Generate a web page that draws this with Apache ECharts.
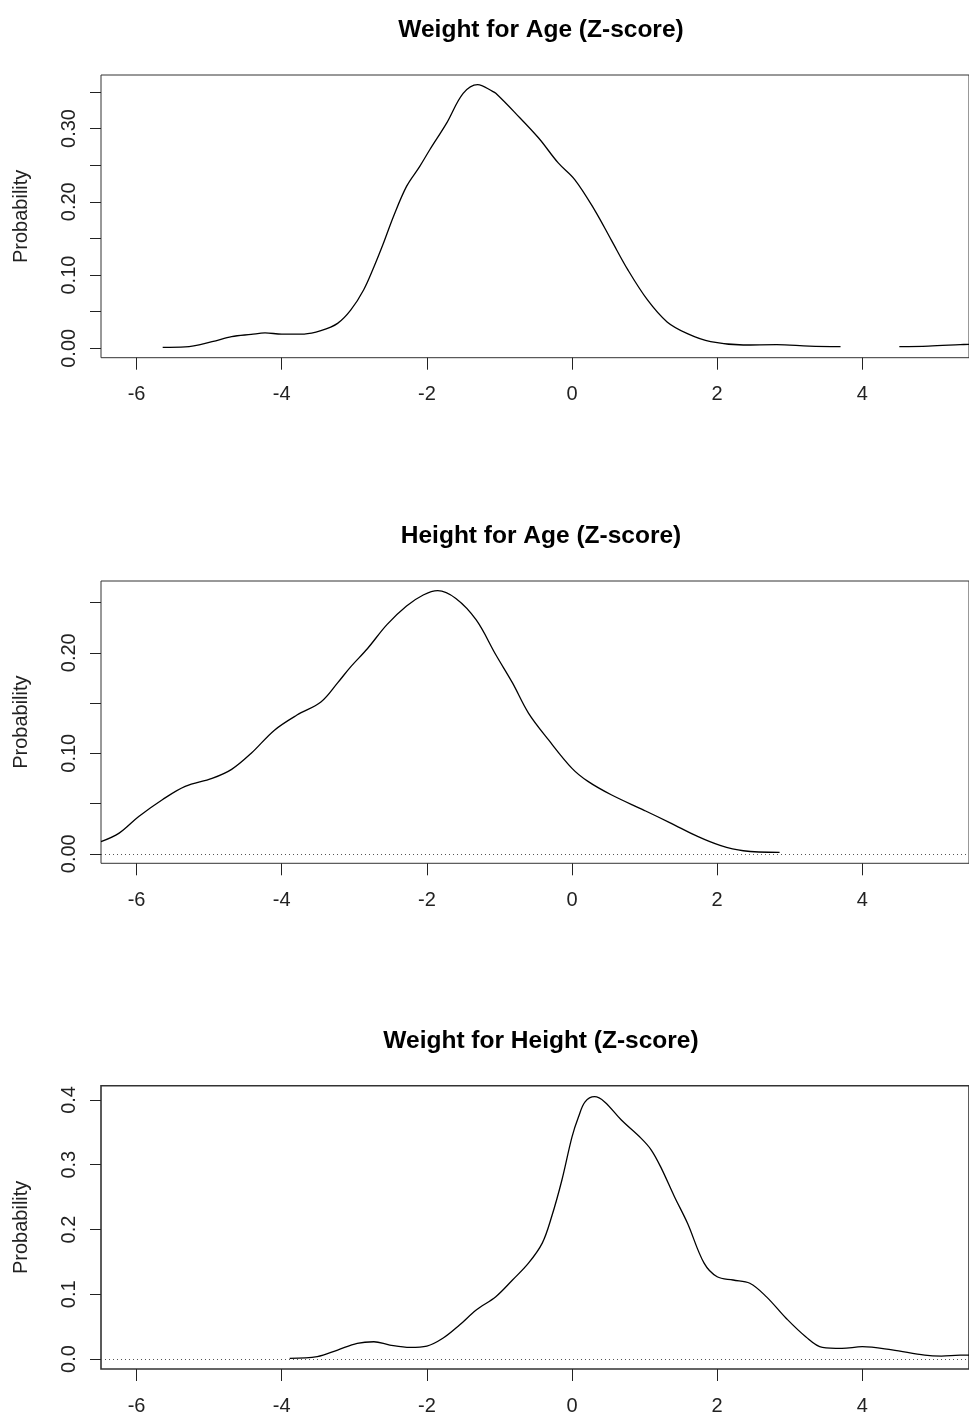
<!DOCTYPE html>
<html>
<head>
<meta charset="utf-8">
<script src="https://cdn.jsdelivr.net/npm/echarts@6/dist/echarts.min.js"></script>
<style>
html,body{margin:0;padding:0;background:#fff;}
#c{width:969px;height:1416px;}
</style>
</head>
<body>
<div id="c"></div>
<script>
// ---- data ----
const titles = ["Weight for Age (Z-score)", "Height for Age (Z-score)", "Weight for Height (Z-score)"];
const xTicks = [-6, -4, -2, 0, 2, 4];

const waX = [-5.64,-5.33,-4.96,-4.69,-4.42,-4.23,-4.0,-3.69,-3.46,-3.23,-3.05,-2.87,-2.73,-2.60,-2.46,-2.28,-2.10,-1.96,-1.73,-1.50,-1.30,-1.10,-1.05,-0.78,-0.46,-0.19,0.04,0.31,0.54,0.77,1.04,1.31,1.59,1.91,2.36,2.82,3.27,3.70,4.10,4.51,4.91,5.35,5.47];
const waY = [0.0014,0.002,0.009,0.016,0.019,0.021,0.0195,0.0195,0.024,0.034,0.052,0.080,0.111,0.143,0.180,0.221,0.248,0.271,0.307,0.348,0.360,0.351,0.348,0.321,0.287,0.253,0.230,0.189,0.148,0.107,0.066,0.036,0.020,0.009,0.0045,0.005,0.003,0.0023,null,0.0023,0.003,0.005,0.0055];

const haX = [-6.49,-6.24,-5.97,-5.64,-5.33,-4.96,-4.69,-4.42,-4.10,-3.79,-3.46,-3.23,-3.05,-2.82,-2.55,-2.28,-2.05,-1.85,-1.60,-1.32,-1.05,-0.82,-0.60,-0.32,0.0,0.22,0.54,1.0,1.36,1.73,2.04,2.36,2.86];
const haY = [0.012,0.0205,0.037,0.054,0.067,0.075,0.084,0.100,0.123,0.138,0.151,0.170,0.186,0.204,0.228,0.2465,0.2575,0.2618,0.254,0.2326,0.198,0.170,0.140,0.113,0.085,0.072,0.0587,0.043,0.0305,0.0172,0.0083,0.003,0.0013];

const whX = [-3.89,-3.51,-3.23,-2.96,-2.73,-2.51,-2.23,-2.0,-1.78,-1.55,-1.32,-1.05,-0.82,-0.60,-0.41,-0.28,-0.14,0.0,0.09,0.18,0.31,0.45,0.68,0.95,1.09,1.22,1.41,1.59,1.82,2.0,2.22,2.45,2.68,2.95,3.22,3.45,3.72,4.0,4.41,4.86,5.09,5.35,5.47];
const whY = [0.001,0.0036,0.0139,0.0242,0.0267,0.0216,0.018,0.020,0.032,0.0525,0.0757,0.0962,0.122,0.148,0.179,0.220,0.276,0.343,0.374,0.397,0.405,0.397,0.369,0.341,0.323,0.297,0.251,0.210,0.148,0.127,0.122,0.117,0.096,0.063,0.0345,0.018,0.0165,0.019,0.014,0.006,0.0046,0.006,0.006];

const yTicks1 = [0,0.05,0.10,0.15,0.20,0.25,0.30,0.35];
const yLabels1 = [0,0.10,0.20,0.30];
const yTicks2 = [0,0.05,0.10,0.15,0.20,0.25];
const yLabels2 = [0,0.10,0.20];
const yTicks3 = [0,0.1,0.2,0.3,0.4];
const yLabels3 = [0,0.1,0.2,0.3,0.4];

// ---- layout ----
const FONT = "Liberation Sans, Arial, sans-serif";
const gridTops = [75, 581, 1085.7];
const gridHeights = [282.7, 282.3, 283.3];
const yRanges = [[-0.0128, 0.373], [-0.0095, 0.2714], [-0.0154, 0.422]];
const yTickSets = [yTicks1, yTicks2, yTicks3];
const yLabelSets = [yLabels1, yLabels2, yLabels3];
const yDecimals = [2, 2, 1];
const seriesXY = [[waX, waY], [haX, haY], [whX, whY]];
const borderW = [1, 1, 1.6];

const zip = (xs, ys) => xs.map((x, i) => [x, ys[i]]);

const option = {
  backgroundColor: '#ffffff',
  animation: false,
  title: titles.map((t, i) => ({
    text: t,
    left: 536,
    textAlign: 'center',
    top: gridTops[i] - 62,
    textStyle: {fontFamily: FONT, fontSize: 24.5, fontWeight: 'bold', color: '#000'}
  })),
  grid: gridTops.map((top, i) => ({
    left: 101, right: -9, top: top, height: gridHeights[i],
    show: true, borderColor: '#333', borderWidth: borderW[i], backgroundColor: 'transparent',
    containLabel: false
  })),
  xAxis: gridTops.map((_, i) => ({
    type: 'value', gridIndex: i, min: -6.49, max: 5.47, position: 'bottom',
    axisLine: {show: false, onZero: false},
    splitLine: {show: false},
    axisTick: {show: true, length: 12, customValues: xTicks, lineStyle: {color: '#222', width: 1}},
    axisLabel: {customValues: xTicks, margin: 27, fontFamily: FONT, fontSize: 20, color: '#222',
      formatter: v => (v < 0 ? '-' + Math.abs(v) : String(v))}
  })),
  yAxis: gridTops.map((_, i) => ({
    type: 'value', gridIndex: i, min: yRanges[i][0], max: yRanges[i][1], position: 'left',
    name: 'Probability', nameLocation: 'middle', nameRotate: 90, nameGap: 70,
    nameTextStyle: {fontFamily: FONT, fontSize: 20, color: '#222'},
    axisLine: {show: false, onZero: false},
    splitLine: {show: false},
    axisTick: {show: true, length: 11, customValues: yTickSets[i], lineStyle: {color: '#222', width: 1}},
    axisLabel: {customValues: yLabelSets[i], rotate: 90, margin: 22, fontFamily: FONT, fontSize: 20, color: '#222',
      formatter: v => Number(v).toFixed(yDecimals[i])}
  })),
  series: seriesXY.map((xy, i) => ({
    type: 'line', xAxisIndex: i, yAxisIndex: i,
    data: zip(xy[0], xy[1]),
    showSymbol: false, symbol: 'none', smooth: 0.35, connectNulls: false,
    lineStyle: {color: '#000', width: 1.3},
    clip: true,
    markLine: i === 0 ? undefined : {
      silent: true, symbol: ['none', 'none'], label: {show: false},
      lineStyle: {color: '#555', type: [1, 3], width: 1},
      data: [{yAxis: 0}]
    }
  }))
};

const chart = echarts.init(document.getElementById('c'), null, {renderer: 'canvas'});
chart.setOption(option);
</script>
</body>
</html>
